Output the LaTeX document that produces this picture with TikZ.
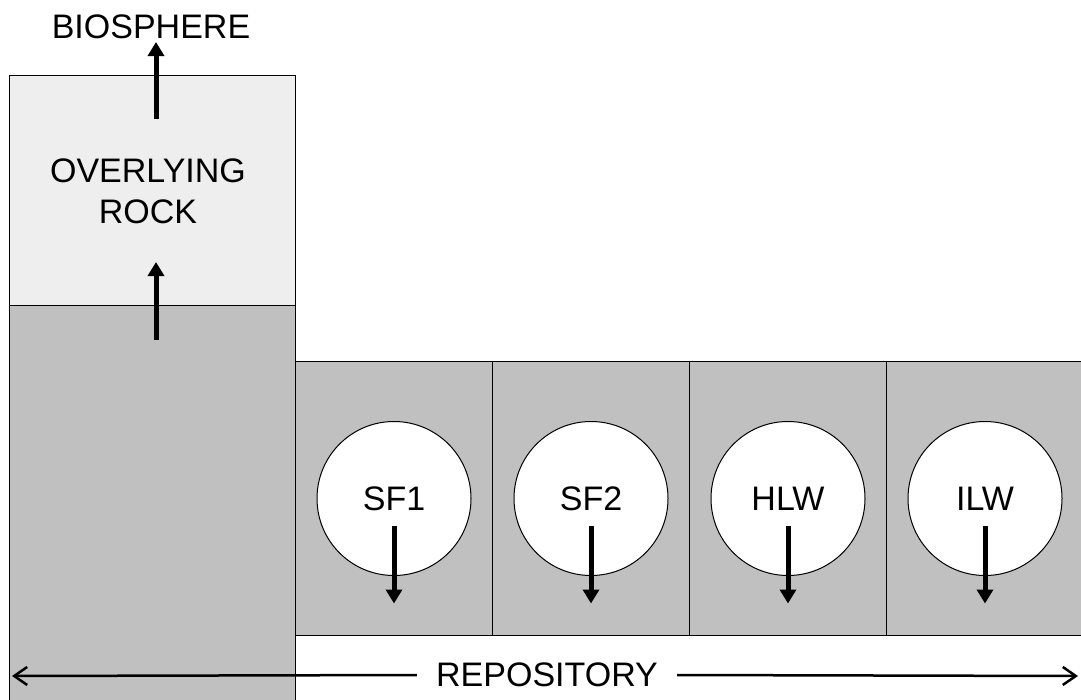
\documentclass[tikz,border=0pt]{standalone}
\usepackage{fontspec}
\setmainfont{Liberation Sans}
\usetikzlibrary{arrows.meta}
\definecolor{repgray}{HTML}{C0C0C0}
\definecolor{rockgray}{HTML}{EEEEEE}
\begin{document}
\begin{tikzpicture}[x=1pt,y=-1pt,
  txt/.style={font=\fontsize{34}{41}\selectfont, align=center, inner sep=0pt},
  cellbox/.style={draw=black, line width=1pt, fill=repgray, minimum width=197pt, minimum height=274pt, inner sep=0pt},
  canister/.style={circle, draw=black, fill=white, line width=1pt, minimum size=154pt, inner sep=0pt, txt},
  flow/.style={line width=5pt, -{Triangle[width=16pt,length=14pt]}},
  span/.style={line width=2.5pt, -{Straight Barb[length=13pt,width=18pt]}}
]
\useasboundingbox (0,0) rectangle (1081,699);
\clip (0,0) rectangle (1081,699);
\fill[white] (0,0) rectangle (1081,699);
% host rock column
\node[draw=black, line width=1pt, fill=repgray, minimum width=286pt, minimum height=410pt, inner sep=0pt, anchor=north west] (host) at (9,305) {};
% overlying rock
\node[draw=black, line width=1pt, fill=rockgray, minimum width=286pt, minimum height=230pt, inner sep=0pt, anchor=north west, txt] (rock) at (9,75) {};
\node[txt] (rocktext) at (148,191) {OVERLYING\\ROCK};
\node[txt] (bio) at (151,27) {BIOSPHERE};
% repository cells
\node[cellbox, anchor=north west] (c1) at (295,361) {};
\node[cellbox, anchor=north west] (c2) at (492,361) {};
\node[cellbox, anchor=north west] (c3) at (689,361) {};
\node[cellbox, anchor=north west] (c4) at (886,361) {};
% canisters
\node[canister] (sf1) at (c1.center) {SF1};
\node[canister] (sf2) at (c2.center) {SF2};
\node[canister] (hlw) at (c3.center) {HLW};
\node[canister] (ilw) at (c4.center) {ILW};
\foreach \n in {sf1,sf2,hlw,ilw}{
  \draw[flow] ([yshift=-27pt]\n.center) -- ([yshift=-105pt]\n.center);
}
% upward flows
\coordinate (up1s) at (156,340);
\coordinate (up1e) at (156,262);
\coordinate (up2s) at (156,119);
\coordinate (up2e) at (156,42);
\draw[flow] (up1s) -- (up1e);
\draw[flow] (up2s) -- (up2e);
% repository span
\node[txt, minimum width=260pt, minimum height=26pt] (rep) at (547,675) {REPOSITORY};
\coordinate (repL) at (12,676);
\coordinate (repR) at (1078,676);
\draw[span] (rep.west) -- (repL);
\draw[span] (rep.east) -- (repR);
\end{tikzpicture}
\end{document}
